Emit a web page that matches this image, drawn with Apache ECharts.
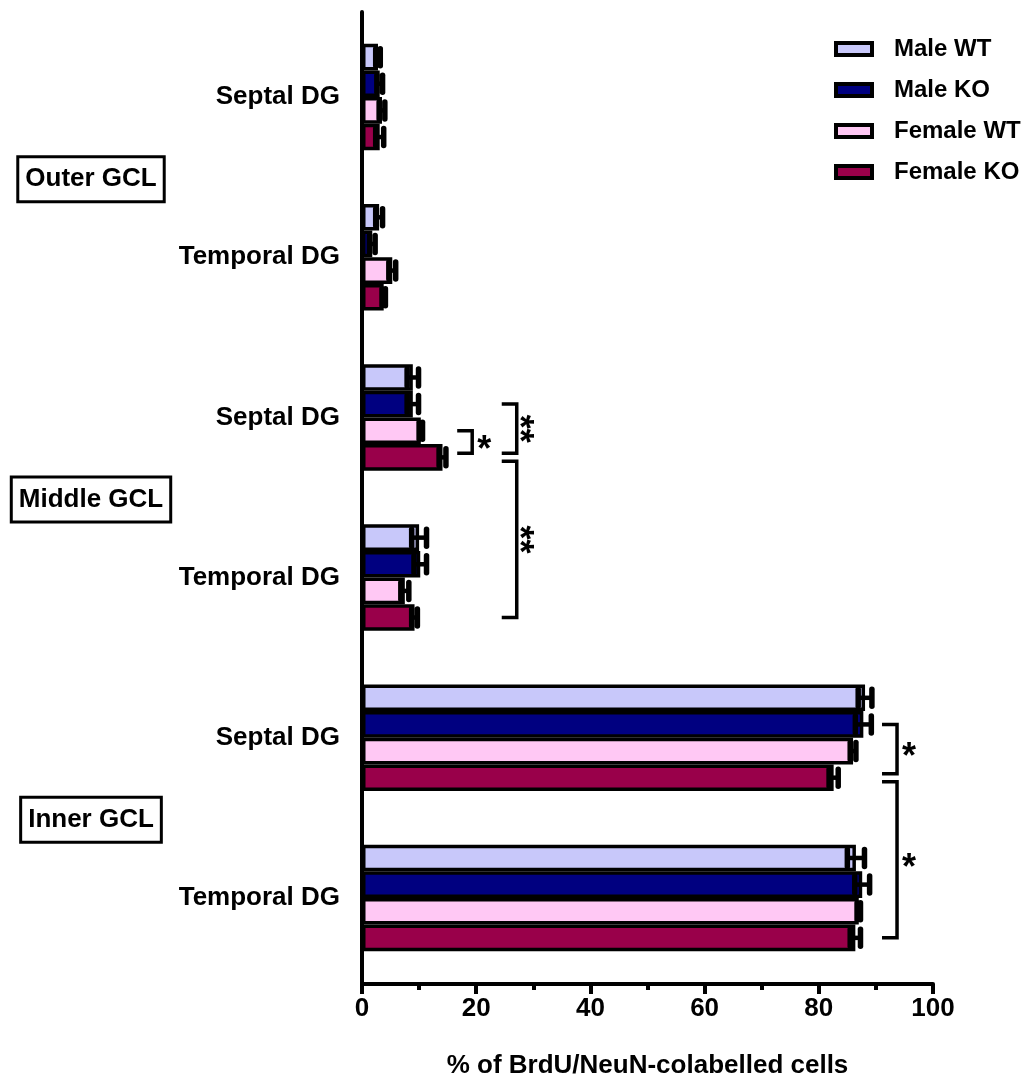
<!DOCTYPE html>
<html>
<head>
<meta charset="utf-8">
<script src="https://cdn.jsdelivr.net/npm/echarts@6/dist/echarts.min.js"></script>
<style>
  html, body { margin: 0; padding: 0; background: #fff; }
  #chart { width: 1030px; height: 1084px; }
</style>
</head>
<body>
<div id="chart"></div>
<script>
// Regions, top to bottom
const categories = ['Septal DG', 'Temporal DG', 'Septal DG', 'Temporal DG', 'Septal DG', 'Temporal DG'];
// Granule cell layer zones, each spanning a pair of region rows
const layerNames = ['Outer GCL', 'Middle GCL', 'Inner GCL'];
const layerRows = [[0, 1], [2, 3], [4, 5]];

const groupNames = ['Male WT', 'Male KO', 'Female WT', 'Female KO'];

// Mean % of BrdU/NeuN co-labelled cells and SEM
const maleWT      = [2.8, 3.0, 8.9, 10.0, 88.1, 86.5];
const maleWTErr   = [0.4, 0.6, 1.0, 1.3, 1.2, 1.5];
const maleKO      = [3.1, 1.8, 8.9, 10.2, 87.8, 87.6];
const maleKOErr   = [0.5, 0.5, 1.0, 1.1, 1.4, 1.3];
const femaleWT    = [3.5, 5.3, 10.3, 7.5, 86.0, 87.0];
const femaleWTErr = [0.5, 0.6, 0.3, 0.7, 0.5, 0.3];
const femaleKO    = [3.1, 3.8, 14.1, 9.2, 82.6, 86.4];
const femaleKOErr = [0.7, 0.3, 0.6, 0.5, 0.8, 0.9];

const xMin = 0, xMax = 100, xStep = 20;

// Significance brackets: x position of the bracket, [row, group] at each end
const comparisons = [
  { x: 19.3, from: [2, 2], to: [2, 3], label: '*' },
  { x: 27.1, from: [2, 1], to: [2, 3], label: '**', vertical: true },
  { x: 27.1, from: [2, 3], to: [3, 3], label: '**', vertical: true },
  { x: 93.7, from: [4, 1], to: [4, 3], label: '*' },
  { x: 93.7, from: [4, 3], to: [5, 3], label: '*' }
];

const colors = ['#c8c8fa', '#000080', '#ffc8f4', '#99004a'];
const means = [maleWT, maleKO, femaleWT, femaleKO];
const errs = [maleWTErr, maleKOErr, femaleWTErr, femaleKOErr];

const FONT = '"Liberation Sans", Arial, sans-serif';
const CAT_GAP = 0.335;

const chart = echarts.init(document.getElementById('chart'), null, { renderer: 'canvas' });

// vertical pixel centre of a bar within its row
function barCenterY(api, row, k) {
  const band = api.size([0, 1])[1];
  const groupH = band * (1 - CAT_GAP);
  const barH = groupH / groupNames.length;
  return api.coord([0, row])[1] - groupH / 2 + barH * (k + 0.5);
}

const barSeries = groupNames.map((name, k) => ({
  name,
  type: 'bar',
  xAxisIndex: 0,
  yAxisIndex: 0,
  data: means[k],
  barGap: '0%',
  barCategoryGap: (CAT_GAP * 100) + '%',
  itemStyle: { color: colors[k], borderColor: '#000', borderWidth: 3.5 },
  emphasis: { disabled: true }
}));

const errorSeries = groupNames.map((name, k) => ({
  type: 'custom',
  xAxisIndex: 0,
  yAxisIndex: 0,
  z: 4,
  silent: true,
  data: means[k].map((m, i) => [i, m, errs[k][i]]),
  encode: { y: 0, x: 1 },
  renderItem(params, api) {
    const row = api.value(0), m = api.value(1), e = api.value(2);
    const y = barCenterY(api, row, k);
    const lo = api.coord([m - e, row])[0];
    const hi = api.coord([m + e, row])[0];
    const h = 8.5;
    const st = { stroke: '#000', lineWidth: 5.5, lineCap: 'round' };
    return {
      type: 'group',
      children: [
        { type: 'line', shape: { x1: lo, y1: y, x2: hi, y2: y }, style: { stroke: '#000', lineWidth: 4.5 } },
        { type: 'line', shape: { x1: lo, y1: y - h, x2: lo, y2: y + h }, style: st },
        { type: 'line', shape: { x1: hi, y1: y - h, x2: hi, y2: y + h }, style: st }
      ]
    };
  }
}));

function samePt(a, b) { return a[0] === b[0] && a[1] === b[1]; }
function isShared(p) {
  return comparisons.filter(c => samePt(c.from, p) || samePt(c.to, p)).length > 1;
}

const starStyle = { fontSize: 36, fontWeight: 'bold', fontFamily: FONT, fill: '#000',
                    align: 'center', verticalAlign: 'middle' };

const bracketSeries = {
  type: 'custom',
  xAxisIndex: 0,
  yAxisIndex: 0,
  z: 5,
  silent: true,
  data: comparisons.map(c => [c.x, c.from[0]]),
  encode: { x: 0, y: 1 },
  renderItem(params, api) {
    const c = comparisons[params.dataIndex];
    const x = api.coord([c.x, 0])[0];
    let y1 = barCenterY(api, c.from[0], c.from[1]);
    let y2 = barCenterY(api, c.to[0], c.to[1]);
    if (isShared(c.from)) y1 += 4;
    if (isShared(c.to)) y2 -= 4;
    const arm = 15;
    const ym = (y1 + y2) / 2;
    const text = c.vertical
      ? { type: 'text', x: x + 1, y: ym, rotation: -Math.PI / 2,
          style: Object.assign({ text: c.label }, starStyle) }
      : { type: 'text', x: x + 12, y: ym + 9,
          style: Object.assign({ text: c.label }, starStyle) };
    return {
      type: 'group',
      children: [
        { type: 'polyline',
          shape: { points: [[x - arm, y1], [x, y1], [x, y2], [x - arm, y2]] },
          style: { stroke: '#000', lineWidth: 3.5, fill: null, lineJoin: 'miter' } },
        text
      ]
    };
  }
};

const layerSeries = {
  type: 'custom',
  xAxisIndex: 0,
  yAxisIndex: 0,
  z: 5,
  silent: true,
  clip: false,
  data: layerRows.map((r, i) => [0, r[0], r[1], i]),
  encode: { x: 0, y: 1 },
  renderItem(params, api) {
    const r0 = api.value(1), r1 = api.value(2);
    const yc = (api.coord([0, r0])[1] + api.coord([0, r1])[1]) / 2 + 2;
    const x = api.coord([0, r0])[0] - 271;
    return {
      type: 'text',
      x, y: yc,
      style: {
        text: layerNames[params.dataIndex],
        fontSize: 26, fontWeight: 'bold', fontFamily: FONT, fill: '#000',
        align: 'center', verticalAlign: 'middle', lineHeight: 28,
        padding: [7, 6, 7, 6],
        backgroundColor: '#fff', borderColor: '#000', borderWidth: 3
      }
    };
  }
};

const option = {
  animation: false,
  backgroundColor: '#fff',
  textStyle: { fontFamily: FONT },
  legend: {
    data: groupNames,
    orient: 'vertical',
    left: 829,
    top: 32,
    icon: 'rect',
    itemWidth: 36,
    itemHeight: 12,
    itemGap: 17,
    selectedMode: false,
    itemStyle: { borderColor: '#000', borderWidth: 4 },
    textStyle: { fontSize: 24, fontWeight: 'bold', fontFamily: FONT, color: '#000',
                 lineHeight: 24, padding: [0, 0, 0, 17] }
  },
  grid: [
    { left: 362, right: 97, top: 17, bottom: 106 },
    { left: 362, right: 97, top: 12, bottom: 77 }
  ],
  xAxis: [
    { type: 'value', gridIndex: 0, min: xMin, max: xMax, show: false },
    {
      type: 'value', gridIndex: 1, min: xMin, max: xMax, interval: xStep,
      name: '% of BrdU/NeuN-colabelled cells',
      nameLocation: 'middle', nameGap: 69,
      nameTextStyle: { fontSize: 26, fontWeight: 'bold', fontFamily: FONT, color: '#000' },
      axisLine: { show: true, lineStyle: { color: '#000', width: 4, cap: 'round' } },
      axisTick: { show: true, length: 10, lineStyle: { color: '#000', width: 4 } },
      minorTick: { show: true, splitNumber: 2, length: 6, lineStyle: { color: '#000', width: 4 } },
      axisLabel: { fontSize: 26, fontWeight: 'bold', fontFamily: FONT, color: '#000', margin: 12 },
      splitLine: { show: false }
    }
  ],
  yAxis: [
    {
      type: 'category', gridIndex: 0, data: categories, inverse: true,
      axisLine: { show: false }, axisTick: { show: false },
      axisLabel: { fontSize: 26, fontWeight: 'bold', fontFamily: FONT, color: '#000', margin: 22 }
    },
    {
      type: 'value', gridIndex: 1, min: 0, max: 1,
      axisLine: { show: true, lineStyle: { color: '#000', width: 4, cap: 'round' } },
      axisTick: { show: false }, axisLabel: { show: false }, splitLine: { show: false }
    }
  ],
  series: [...barSeries, ...errorSeries, bracketSeries, layerSeries]
};

chart.setOption(option);
</script>
</body>
</html>
